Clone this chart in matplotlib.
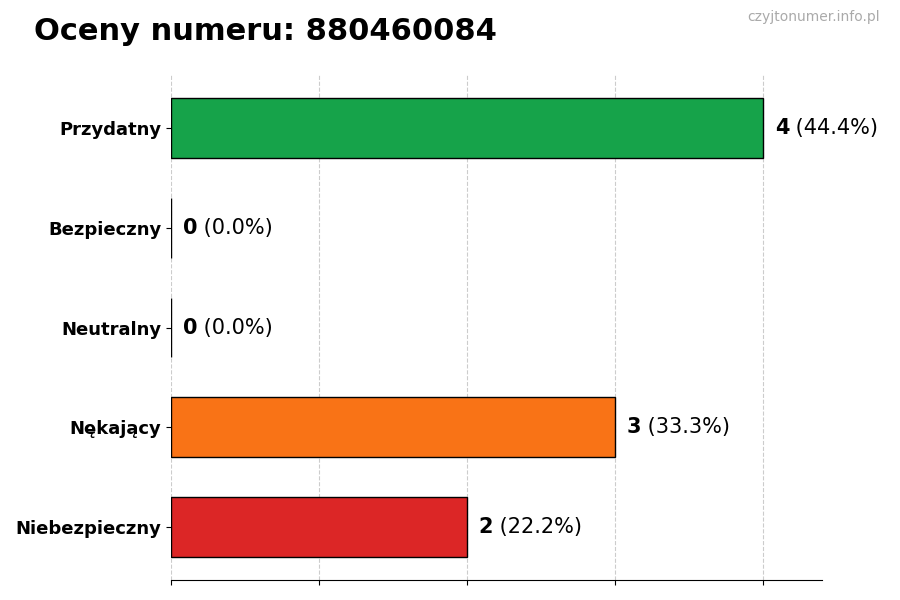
import matplotlib
matplotlib.use('Agg')
import matplotlib.pyplot as plt

categories = ['Przydatny', 'Bezpieczny', 'Neutralny', 'Nękający', 'Niebezpieczny']
counts = [4, 0, 0, 3, 2]
colors = ['#16a34a', '#3b82f6', '#9ca3af', '#f97316', '#dc2626']
phone = '880460084'

total = sum(counts)

fig = plt.figure(figsize=(9, 6), dpi=100)
ax = fig.add_axes([0.19, 0.0333, 0.7233, 0.8417])

ypos = list(range(len(categories)))
ax.barh(ypos, counts, height=0.6, color=colors, edgecolor='black', linewidth=1, zorder=3)
ax.invert_yaxis()
ax.set_xlim(0, 4.4)
ax.set_yticks(ypos)
ax.set_yticklabels(categories, fontsize=13, fontweight='bold')
ax.set_xticks(range(0, 5))
ax.set_xticklabels([])
ax.grid(axis='x', linestyle='--', color='#cccccc', linewidth=0.8, zorder=0)

for s in ['top', 'right', 'left']:
    ax.spines[s].set_visible(False)

for y, c in zip(ypos, counts):
    pct = c / total * 100 if total else 0
    t = ax.text(c + 0.08, y, str(c), fontsize=15, fontweight='bold', va='center', ha='left')
    ax.annotate(' (%.1f%%)' % pct, xy=(1, 0.5), xycoords=t, va='center', ha='left', fontsize=15)

fig.text(0.038, 0.948, 'Oceny numeru: ' + phone, fontsize=22, fontweight='bold', va='center', ha='left')
fig.text(0.978, 0.972, 'czyjtonumer.info.pl', fontsize=10, color='#aaaaaa', va='center', ha='right')

fig.savefig('out.png', dpi=100)
